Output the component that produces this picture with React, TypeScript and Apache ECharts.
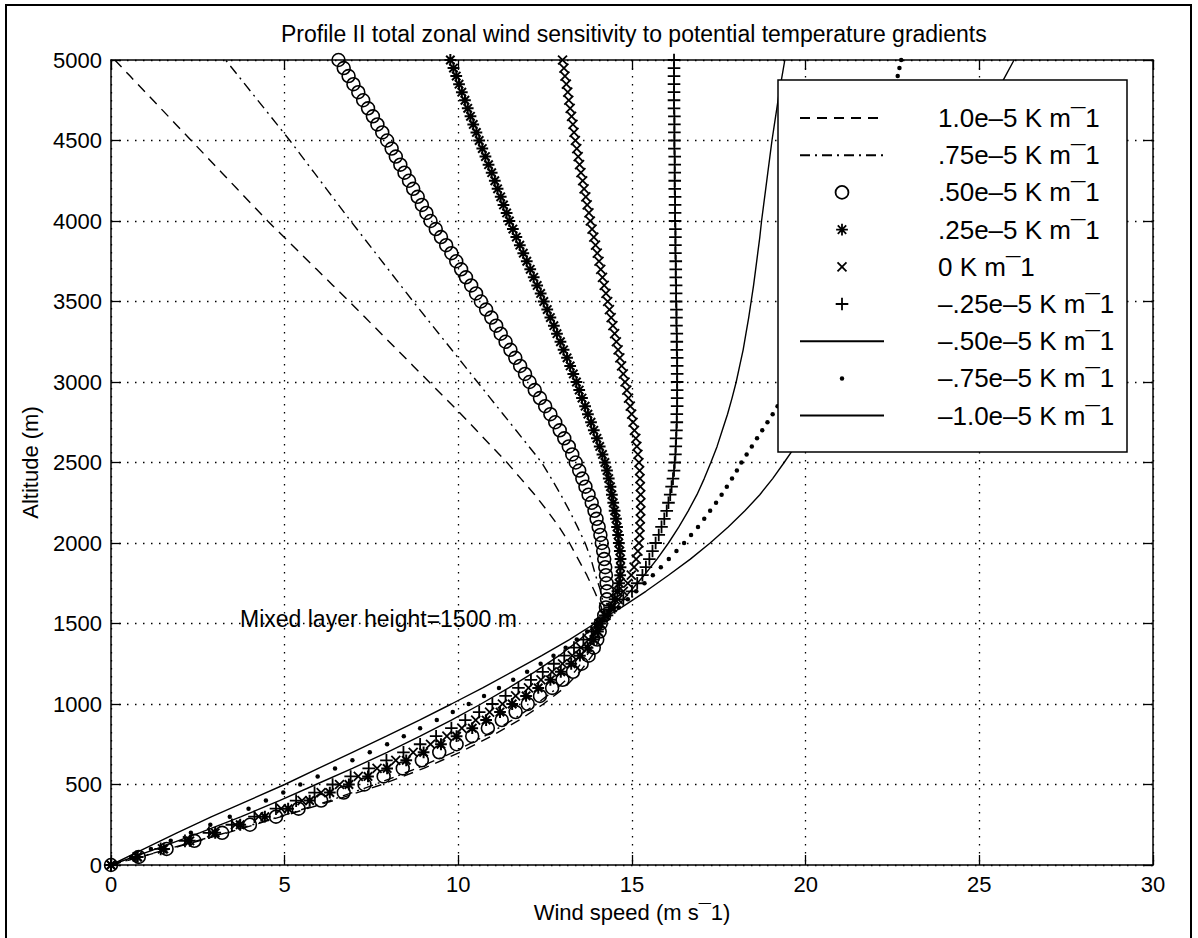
import React, { useEffect, useRef } from "react";
import * as echarts from "echarts";

const FONT = "'Liberation Sans', Arial, Helvetica, sans-serif";

const TITLE = "Profile II total zonal wind sensitivity to potential temperature gradients";
const X_NAME = "Wind speed (m s\u00AF1)";
const Y_NAME = "Altitude (m)";
const NOTE = "Mixed layer height=1500 m";

const NAMES = [
  "1.0e\u20135 K m\u00AF1",
  ".75e\u20135 K m\u00AF1",
  ".50e\u20135 K m\u00AF1",
  ".25e\u20135 K m\u00AF1",
  "0 K m\u00AF1",
  "\u2013.25e\u20135 K m\u00AF1",
  "\u2013.50e\u20135 K m\u00AF1",
  "\u2013.75e\u20135 K m\u00AF1",
  "\u20131.0e\u20135 K m\u00AF1",
];

// altitude levels (m) of the marker curves
const ALT_50 = [
  0, 50, 100, 150, 200, 250, 300, 350, 400, 450,
  500, 550, 600, 650, 700, 750, 800, 850, 900, 950,
  1000, 1050, 1100, 1150, 1200, 1250, 1300, 1350, 1400, 1450,
  1500, 1550, 1600, 1650, 1700, 1750, 1800, 1850, 1900, 1950,
  2000, 2050, 2100, 2150, 2200, 2250, 2300, 2350, 2400, 2450,
  2500, 2550, 2600, 2650, 2700, 2750, 2800, 2850, 2900, 2950,
  3000, 3050, 3100, 3150, 3200, 3250, 3300, 3350, 3400, 3450,
  3500, 3550, 3600, 3650, 3700, 3750, 3800, 3850, 3900, 3950,
  4000, 4050, 4100, 4150, 4200, 4250, 4300, 4350, 4400, 4450,
  4500, 4550, 4600, 4650, 4700, 4750, 4800, 4850, 4900, 4950,
  5000,
];

// altitude levels (m) of the plain line curves
const ALT_100 = [
  0, 100, 200, 300, 400, 500, 600, 700, 800, 900,
  1000, 1100, 1200, 1300, 1400, 1500, 1600, 1700, 1800, 1900,
  2000, 2100, 2200, 2300, 2400, 2500, 2600, 2700, 2800, 2900,
  3000, 3100, 3200, 3300, 3400, 3500, 3600, 3700, 3800, 3900,
  4000, 4100, 4200, 4300, 4400, 4500, 4600, 4700, 4800, 4900,
  5000,
];

// wind speed (m/s) for 1.0e-5 K/m (dashed)
const W_P100 = [
  0, 1.7, 3.35, 4.9, 6.4, 7.8, 9.0, 10.05, 10.95, 11.75,
  12.45, 13.05, 13.5, 13.85, 14.05, 14.15, 14.12, 13.92, 13.7, 13.45,
  13.2, 12.9, 12.56, 12.2, 11.8, 11.4, 10.96, 10.52, 10.08, 9.62,
  9.16, 8.7, 8.24, 7.78, 7.32, 6.86, 6.39, 5.92, 5.45, 4.98,
  4.51, 4.07, 3.63, 3.19, 2.75, 2.31, 1.87, 1.43, 0.99, 0.55,
  0.11,
];

// .75e-5 (dash-dot)
const W_P75 = [
  0, 1.65, 3.3, 4.85, 6.3, 7.6, 8.8, 9.85, 10.75, 11.55,
  12.25, 12.85, 13.35, 13.7, 13.95, 14.12, 14.2, 14.1, 13.95, 13.82,
  13.65, 13.43, 13.2, 12.95, 12.68, 12.4, 12.03, 11.66, 11.29, 10.92,
  10.55, 10.18, 9.81, 9.44, 9.07, 8.7, 8.34, 7.98, 7.62, 7.26,
  6.9, 6.55, 6.2, 5.85, 5.5, 5.15, 4.78, 4.41, 4.04, 3.67,
  3.3,
];

// .50e-5 (circles)
const W_P50 = [
  0, 0.8, 1.6, 2.4, 3.2, 4.0, 4.75, 5.4, 6.05, 6.7,
  7.3, 7.85, 8.4, 8.95, 9.45, 9.95, 10.4, 10.85, 11.25, 11.65,
  12.0, 12.35, 12.7, 13.0, 13.3, 13.55, 13.75, 13.9, 14.0, 14.07,
  14.1, 14.2, 14.25, 14.28, 14.28, 14.27, 14.25, 14.23, 14.2, 14.17,
  14.13, 14.09, 14.04, 13.98, 13.92, 13.84, 13.75, 13.66, 13.57, 13.48,
  13.38, 13.28, 13.18, 13.05, 12.92, 12.79, 12.65, 12.5, 12.35, 12.2,
  12.05, 11.92, 11.78, 11.64, 11.5, 11.36, 11.22, 11.09, 10.95, 10.8,
  10.65, 10.51, 10.37, 10.22, 10.08, 9.94, 9.8, 9.65, 9.5, 9.35,
  9.2, 9.08, 8.95, 8.83, 8.7, 8.58, 8.45, 8.33, 8.2, 8.08,
  7.95, 7.81, 7.67, 7.54, 7.4, 7.26, 7.12, 6.98, 6.84, 6.7,
  6.55,
];

// .25e-5 (asterisks)
const W_P25 = [
  0, 0.77, 1.52, 2.27, 3.0, 3.72, 4.43, 5.1, 5.72, 6.3,
  6.85, 7.4, 7.95, 8.5, 9.0, 9.5, 9.95, 10.4, 10.8, 11.2,
  11.55, 11.95, 12.3, 12.65, 12.95, 13.25, 13.5, 13.72, 13.9, 14.02,
  14.08, 14.22, 14.38, 14.5, 14.58, 14.63, 14.66, 14.67, 14.67, 14.65,
  14.62, 14.6, 14.57, 14.54, 14.5, 14.46, 14.42, 14.38, 14.33, 14.28,
  14.22, 14.15, 14.07, 13.99, 13.9, 13.82, 13.73, 13.65, 13.56, 13.48,
  13.4, 13.31, 13.22, 13.13, 13.03, 12.94, 12.84, 12.75, 12.65, 12.56,
  12.46, 12.37, 12.27, 12.17, 12.07, 11.97, 11.87, 11.77, 11.67, 11.57,
  11.47, 11.39, 11.3, 11.22, 11.13, 11.05, 10.96, 10.87, 10.78, 10.69,
  10.6, 10.52, 10.43, 10.35, 10.27, 10.19, 10.1, 10.02, 9.94, 9.86,
  9.77,
];

// 0 K/m (crosses)
const W_0 = [
  0, 0.75, 1.48, 2.2, 2.9, 3.58, 4.25, 4.9, 5.5, 6.05,
  6.58, 7.12, 7.66, 8.2, 8.7, 9.2, 9.67, 10.1, 10.5, 10.9,
  11.27, 11.65, 12.02, 12.38, 12.7, 13.0, 13.28, 13.53, 13.75, 13.93,
  14.05, 14.25, 14.43, 14.6, 14.75, 14.88, 14.98, 15.06, 15.12, 15.17,
  15.2, 15.22, 15.23, 15.24, 15.25, 15.25, 15.25, 15.24, 15.23, 15.22,
  15.2, 15.17, 15.14, 15.11, 15.07, 15.03, 14.99, 14.95, 14.9, 14.85,
  14.8, 14.75, 14.7, 14.65, 14.6, 14.55, 14.5, 14.45, 14.4, 14.35,
  14.3, 14.25, 14.2, 14.15, 14.1, 14.05, 14.0, 13.95, 13.9, 13.85,
  13.8, 13.76, 13.71, 13.67, 13.62, 13.58, 13.53, 13.49, 13.45, 13.41,
  13.37, 13.33, 13.3, 13.26, 13.22, 13.18, 13.15, 13.11, 13.07, 13.04,
  13.0,
];

// -.25e-5 (plus signs)
const W_M25 = [
  0, 0.72, 1.43, 2.13, 2.82, 3.48, 4.13, 4.75, 5.33, 5.86,
  6.38, 6.9, 7.42, 7.93, 8.42, 8.9, 9.36, 9.8, 10.2, 10.6,
  10.98, 11.36, 11.73, 12.09, 12.43, 12.75, 13.05, 13.33, 13.6, 13.84,
  14.02, 14.28, 14.5, 14.75, 15.0, 15.15, 15.3, 15.4, 15.5, 15.59,
  15.68, 15.77, 15.85, 15.93, 16.0, 16.05, 16.1, 16.14, 16.18, 16.21,
  16.23, 16.25, 16.26, 16.27, 16.28, 16.29, 16.29, 16.3, 16.3, 16.3,
  16.3, 16.3, 16.3, 16.3, 16.29, 16.29, 16.29, 16.28, 16.28, 16.28,
  16.27, 16.27, 16.27, 16.26, 16.26, 16.26, 16.25, 16.25, 16.25, 16.25,
  16.24, 16.24, 16.24, 16.24, 16.23, 16.23, 16.23, 16.23, 16.23, 16.22,
  16.22, 16.22, 16.22, 16.22, 16.21, 16.21, 16.21, 16.21, 16.21, 16.21,
  16.21,
];

// -.50e-5 (solid)
const W_M50 = [
  0, 1.3, 2.55, 3.75, 4.85, 5.9, 6.95, 7.95, 8.9, 9.8,
  10.65, 11.45, 12.2, 12.9, 13.5, 14.0, 14.55, 14.95, 15.35, 15.72,
  16.05, 16.35, 16.62, 16.87, 17.08, 17.27, 17.45, 17.6, 17.75, 17.88,
  18.0, 18.1, 18.2, 18.28, 18.36, 18.43, 18.5, 18.56, 18.62, 18.68,
  18.73, 18.79, 18.85, 18.91, 18.97, 19.03, 19.1, 19.17, 19.24, 19.32,
  19.4,
];

// -.75e-5 (dots)
const W_M75 = [
  0, 0.58, 1.15, 1.72, 2.3, 2.86, 3.42, 3.96, 4.46, 4.96,
  5.45, 5.95, 6.45, 6.95, 7.45, 7.95, 8.43, 8.9, 9.38, 9.84,
  10.3, 10.74, 11.17, 11.58, 11.98, 12.37, 12.74, 13.09, 13.41, 13.71,
  13.97, 14.32, 14.62, 14.88, 15.12, 15.36, 15.6, 15.83, 16.06, 16.28,
  16.5, 16.7, 16.9, 17.08, 17.25, 17.42, 17.58, 17.73, 17.88, 18.02,
  18.15, 18.3, 18.45, 18.6, 18.75, 18.9, 19.05, 19.19, 19.32, 19.45,
  19.58, 19.71, 19.83, 19.95, 20.07, 20.19, 20.3, 20.41, 20.52, 20.63,
  20.73, 20.83, 20.93, 21.03, 21.12, 21.21, 21.3, 21.39, 21.47, 21.55,
  21.63, 21.71, 21.78, 21.85, 21.92, 21.99, 22.05, 22.11, 22.17, 22.23,
  22.28, 22.33, 22.38, 22.43, 22.47, 22.52, 22.56, 22.61, 22.65, 22.7,
  22.75,
];

// -1.0e-5 (solid)
const W_M100 = [
  0, 0.95, 1.9, 2.9, 3.95, 5.0, 5.97, 6.95, 7.93, 8.88,
  9.8, 10.7, 11.55, 12.4, 13.2, 13.93, 14.7, 15.4, 16.05, 16.68,
  17.25, 17.77, 18.25, 18.68, 19.05, 19.38, 19.7, 20.0, 20.3, 20.6,
  20.88, 21.16, 21.44, 21.71, 21.98, 22.25, 22.5, 22.75, 23.0, 23.25,
  23.5, 23.75, 24.0, 24.25, 24.5, 24.75, 25.0, 25.25, 25.5, 25.75,
  26.0,
];

// marker glyphs (10x10 box, the leading moves fix the box size)
const SYM_O = "path://M0 0M10 10M9.6 5A4.6 4.6 0 1 1 0.4 5A4.6 4.6 0 1 1 9.6 5Z";
const SYM_STAR = "path://M0 0M10 10M5 0.8L5 9.2M0.8 5L9.2 5M2 2L8 8M8 2L2 8";
const SYM_X = "path://M0 0M10 10M1.8 1.8L8.2 8.2M8.2 1.8L1.8 8.2";
const SYM_PLUS = "path://M0 0M10 10M5 0.5L5 9.5M0.5 5L9.5 5";
const SYM_DOT = "path://M0 0M10 10M6.6 5A1.6 1.6 0 1 1 3.4 5A1.6 1.6 0 1 1 6.6 5Z";

const pairs = (xs: number[], ys: number[]) => xs.map((x, i) => [x, ys[i]]);

const lineSeries = (name: string, xs: number[], type: any) => ({
  name,
  type: "line",
  data: pairs(xs, ALT_100),
  symbol: "none",
  silent: true,
  lineStyle: { color: "#000", width: 1.4, type },
  itemStyle: { color: "rgba(0,0,0,0)", borderWidth: 0 },
  z: 3,
});

const markerSeries = (name: string, xs: number[], symbol: string, filled: boolean, bw: number) => ({
  name,
  type: "scatter",
  data: pairs(xs, ALT_50),
  symbol,
  symbolSize: 14,
  silent: true,
  itemStyle: filled
    ? { color: "#000", borderWidth: 0, opacity: 1 }
    : { color: "rgba(0,0,0,0)", borderColor: "#000", borderWidth: bw, opacity: 1 },
  z: 3,
});

const axisCommon = {
  type: "value" as const,
  axisLine: { show: true, onZero: false, lineStyle: { color: "#000", width: 1.5 } },
  axisTick: { show: true, inside: true, length: 10, lineStyle: { color: "#000", width: 1.3 } },
};

const plain = (v: number) => String(v);

export default function App() {
  const ref = useRef<HTMLDivElement>(null);
  useEffect(() => {
    if (!ref.current) return;
    const chart = echarts.init(ref.current, null, { renderer: "svg" });
    const option: any = {
      animation: false,
      backgroundColor: "#fff",
      title: {
        text: TITLE,
        left: 281,
        top: 22,
        padding: 0,
        textStyle: { fontFamily: FONT, fontSize: 23, fontWeight: "normal", color: "#000" },
      },
      grid: { left: 111, top: 60, width: 1042, height: 805, containLabel: false },
      xAxis: [
        {
          ...axisCommon,
          min: 0,
          max: 30,
          interval: 5,
          position: "bottom",
          axisLabel: { color: "#000", fontFamily: FONT, fontSize: 22, margin: 8, formatter: plain },
          splitLine: { show: true, lineStyle: { color: "#000", width: 1.3, type: [1.5, 6.5] } },
          name: X_NAME,
          nameLocation: "middle",
          nameGap: 36,
          nameTextStyle: { color: "#000", fontFamily: FONT, fontSize: 22 },
        },
        {
          ...axisCommon,
          min: 0,
          max: 30,
          interval: 5,
          position: "top",
          axisLabel: { show: false },
          splitLine: { show: false },
        },
      ],
      yAxis: [
        {
          ...axisCommon,
          min: 0,
          max: 5000,
          interval: 500,
          position: "left",
          axisLabel: { color: "#000", fontFamily: FONT, fontSize: 22, margin: 9, formatter: plain },
          splitLine: { show: true, lineStyle: { color: "#000", width: 1.3, type: [1.5, 6.5] } },
          name: Y_NAME,
          nameLocation: "middle",
          nameGap: 70,
          nameRotate: 90,
          nameTextStyle: { color: "#000", fontFamily: FONT, fontSize: 22 },
        },
        {
          ...axisCommon,
          min: 0,
          max: 5000,
          interval: 500,
          position: "right",
          axisLabel: { show: false },
          splitLine: { show: false },
        },
      ],
      legend: {
        orient: "vertical",
        left: 799,
        top: 103,
        padding: 0,
        itemWidth: 84,
        itemHeight: 14,
        itemGap: 7.2,
        z: 100,
        selectedMode: false,
        data: NAMES.map((n, i) =>
          [2, 3, 4, 5].includes(i)
            ? { name: n, itemStyle: { borderWidth: 1.8, opacity: 1 } }
            : { name: n, itemStyle: { opacity: 1 } }
        ),
        formatter: (n: string) => `{t|${n}}`,
        textStyle: {
          color: "#000",
          fontFamily: FONT,
          fontSize: 26,
          lineHeight: 30,
          rich: { t: { color: "#000", fontFamily: FONT, fontSize: 26, lineHeight: 30, padding: [0, 0, 0, 49] } },
        },
      },
      graphic: [
        {
          type: "rect",
          z: 0,
          silent: true,
          shape: { x: 6, y: 5, width: 1185, height: 960 },
          style: { fill: "none", stroke: "#000", lineWidth: 2 },
        },
        {
          type: "rect",
          z: 50,
          silent: true,
          shape: { x: 778, y: 80, width: 349, height: 372 },
          style: { fill: "#fff", stroke: "#000", lineWidth: 1.5 },
        },
        {
          type: "text",
          z: 10,
          silent: true,
          x: 240,
          y: 619,
          style: {
            text: NOTE,
            fill: "#000",
            fontFamily: FONT,
            fontSize: 23,
            verticalAlign: "middle",
            align: "left",
          },
        },
      ],
      series: [
        lineSeries(NAMES[0], W_P100, [10, 7]),
        lineSeries(NAMES[1], W_P75, [10, 5, 2, 5]),
        markerSeries(NAMES[2], W_P50, SYM_O, false, 1.6),
        markerSeries(NAMES[3], W_P25, SYM_STAR, false, 2),
        markerSeries(NAMES[4], W_0, SYM_X, false, 1.8),
        markerSeries(NAMES[5], W_M25, SYM_PLUS, false, 1.8),
        lineSeries(NAMES[6], W_M50, "solid"),
        markerSeries(NAMES[7], W_M75, SYM_DOT, true, 0),
        lineSeries(NAMES[8], W_M100, "solid"),
      ],
    };
    chart.setOption(option);
    return () => chart.dispose();
  }, []);
  return (
    <div
      ref={ref}
      style={{ position: "absolute", left: 0, top: 0, width: 1198, height: 938, background: "#fff" }}
    />
  );
}
